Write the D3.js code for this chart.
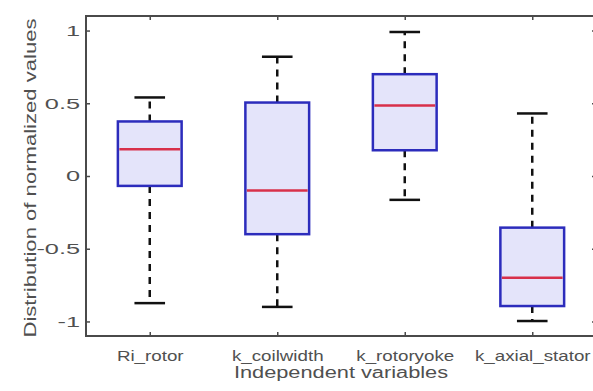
<!DOCTYPE html>
<html>
<head>
<meta charset="utf-8">
<script src="https://cdn.jsdelivr.net/npm/d3@7"></script>
<style>
  body { margin: 0; background: #fff; }
  text { font-family: "Liberation Sans", Arial, sans-serif; }
</style>
</head>
<body>
<div id="wrapper"></div>
<script>
// data
const categories = ["Ri_rotor", "k_coilwidth", "k_rotoryoke", "k_axial_stator"];
const whiskerLow = [-0.874, -0.90, -0.164, -0.997];
const q1 = [-0.068, -0.40, 0.177, -0.894];
const medians = [0.184, -0.10, 0.485, -0.70];
const q3 = [0.375, 0.505, 0.70, -0.355];
const whiskerHigh = [0.54, 0.82, 0.99, 0.43];
const yTicks = [-1, -0.5, 0, 0.5, 1];
const yTickLabels = ["-1", "-0.5", "0", "0.5", "1"];

const boxes = categories.map((c, i) => ({
    name: c, pos: i + 1,
    lo: whiskerLow[i], q1: q1[i], med: medians[i], q3: q3[i], hi: whiskerHigh[i]
}));

const width = 593
const height = 391
let dimensions = {
    width: width,
    height: height,
    margin: { top: 16, right: -3, bottom: 55, left: 86 },
}
dimensions.boundedWidth = dimensions.width - dimensions.margin.left - dimensions.margin.right
dimensions.boundedHeight = dimensions.height - dimensions.margin.top - dimensions.margin.bottom

const svg = d3.select("#wrapper")
    .append("svg")
    .attr("width", dimensions.width)
    .attr("height", dimensions.height);

const bounds = svg.append("g")
    .attr("transform", `translate(${dimensions.margin.left},${dimensions.margin.top})`);

const xScaler = d3.scaleLinear()
    .domain([0.5, 4.5])
    .range([0, dimensions.boundedWidth])

const yScaler = d3.scaleLinear()
    .domain([-1.1, 1.1])
    .range([dimensions.boundedHeight, 0])

const axisColor = "#4a4a4a";
const textColor = "#505050";
// the text in the picture is drawn wider than the font normally is
function widen(sel, stretch) {
    sel.each(function () {
        const w = this.getComputedTextLength();
        d3.select(this).attr("textLength", w * stretch).attr("lengthAdjust", "spacingAndGlyphs");
    });
}

// frame
bounds.append("rect")
    .attr("width", dimensions.boundedWidth)
    .attr("height", dimensions.boundedHeight)
    .attr("fill", "none")
    .attr("stroke", axisColor)
    .attr("stroke-width", 2);

// axes
const xAxisGen = d3.axisBottom(xScaler)
    .tickValues(boxes.map(d => d.pos))
    .tickFormat((d, i) => categories[i])
    .tickSizeInner(-4)
    .tickSizeOuter(0)
    .tickPadding(14);
const xAxis = bounds.append("g")
    .attr("transform", `translate(0,${dimensions.boundedHeight})`)
    .call(xAxisGen);

const xTop = bounds.append("g")
    .call(d3.axisTop(xScaler).tickValues(boxes.map(d => d.pos)).tickFormat("").tickSizeInner(-4).tickSizeOuter(0));

const yAxisGen = d3.axisLeft(yScaler)
    .tickValues(yTicks)
    .tickFormat((d, i) => yTickLabels[i])
    .tickSizeInner(-4)
    .tickSizeOuter(0)
    .tickPadding(6);
const yAxis = bounds.append("g").call(yAxisGen);

const yRight = bounds.append("g")
    .attr("transform", `translate(${dimensions.boundedWidth},0)`)
    .call(d3.axisRight(yScaler).tickValues(yTicks).tickFormat("").tickSizeInner(-4).tickSizeOuter(0));

[xAxis, xTop, yAxis, yRight].forEach(a => {
    a.select(".domain").remove();
    a.selectAll("line").attr("stroke", axisColor).attr("stroke-width", 1.5);
    a.selectAll("text").attr("fill", textColor).attr("font-size", "15px").call(widen, 1.25);
});
yAxis.selectAll("text").call(widen, 1.35);

// boxes
const boxW = xScaler(1.25) - xScaler(0.75);
const capW = xScaler(1.12) - xScaler(0.88);

const g = bounds.append("g")
    .selectAll("g")
    .data(boxes)
    .enter()
    .append("g");

g.append("line")
    .attr("x1", d => xScaler(d.pos)).attr("x2", d => xScaler(d.pos))
    .attr("y1", d => yScaler(d.q3)).attr("y2", d => yScaler(d.hi))
    .attr("stroke", "#111").attr("stroke-width", 2.5).attr("stroke-dasharray", "7,6");
g.append("line")
    .attr("x1", d => xScaler(d.pos)).attr("x2", d => xScaler(d.pos))
    .attr("y1", d => yScaler(d.q1)).attr("y2", d => yScaler(d.lo))
    .attr("stroke", "#111").attr("stroke-width", 2.5).attr("stroke-dasharray", "7,6");

g.selectAll(".cap")
    .data(d => [{ pos: d.pos, v: d.lo }, { pos: d.pos, v: d.hi }])
    .enter()
    .append("line")
    .attr("x1", d => xScaler(d.pos) - capW / 2).attr("x2", d => xScaler(d.pos) + capW / 2)
    .attr("y1", d => yScaler(d.v)).attr("y2", d => yScaler(d.v))
    .attr("stroke", "#111").attr("stroke-width", 2.5);

g.append("rect")
    .attr("x", d => xScaler(d.pos) - boxW / 2)
    .attr("width", boxW)
    .attr("y", d => yScaler(d.q3))
    .attr("height", d => yScaler(d.q1) - yScaler(d.q3))
    .attr("fill", "#e4e4fa")
    .attr("stroke", "#2c2cbc")
    .attr("stroke-width", 2.5);

g.append("line")
    .attr("x1", d => xScaler(d.pos) - boxW / 2 + 1.5).attr("x2", d => xScaler(d.pos) + boxW / 2 - 1.5)
    .attr("y1", d => yScaler(d.med)).attr("y2", d => yScaler(d.med))
    .attr("stroke", "#d8304a").attr("stroke-width", 2.5);

// labels
svg.append("text")
    .attr("x", dimensions.margin.left + xScaler(2.5))
    .attr("y", 378)
    .text("Independent variables")
    .attr("fill", textColor)
    .attr("font-size", "16px")
    .attr("text-anchor", "middle")
    .call(widen, 1.36);

svg.append("text")
    .attr("transform", `translate(36,${dimensions.margin.top + dimensions.boundedHeight / 2 + 2}) rotate(-90)`)
    .text("Distribution of normalized values")
    .attr("fill", textColor)
    .attr("font-size", "16px")
    .attr("text-anchor", "middle")
    .call(widen, 1.38);
</script>
</body>
</html>
